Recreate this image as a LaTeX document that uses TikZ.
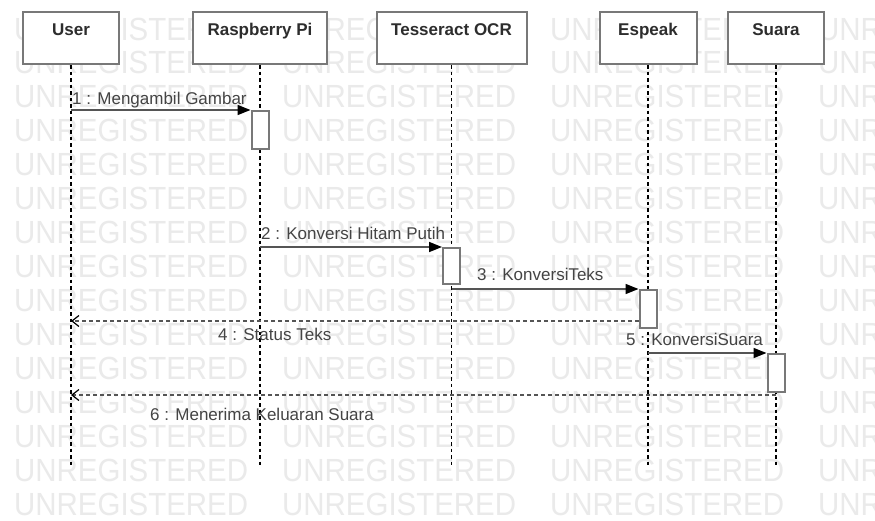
\documentclass[tikz,border=0pt]{standalone}
\usepackage{fontspec}
\setmainfont{Liberation Sans}
\newfontfamily\wmfont[FakeStretch=0.92]{Liberation Sans}
\usetikzlibrary{arrows.meta}
\definecolor{wmgray}{RGB}{234,234,234}
\definecolor{boxgray}{RGB}{120,120,120}
\definecolor{msggray}{RGB}{85,85,85}
\definecolor{txtc}{RGB}{45,45,45}
\definecolor{lblc}{RGB}{68,68,68}
\tikzset{
 wm/.style={anchor=base west, inner sep=0, text=wmgray, font=\wmfont\fontsize{32}{32}\selectfont},
 actor/.style={draw=boxgray, line width=2pt, fill=white, minimum height=52pt, inner sep=0},
 title/.style={anchor=base, inner sep=0, text=txtc, font=\bfseries\fontsize{17}{20}\selectfont},
 lifeline/.style={draw=black, line width=1.2pt, dash pattern=on 3.5pt off 3pt},
 act/.style={draw=boxgray, line width=2pt, fill=white, minimum width=17pt, inner sep=0, anchor=north},
 msg/.style={draw=msggray, line width=1.6pt, -{Triangle[length=13pt,width=10pt,fill=black,color=black]}},
 ret/.style={draw=msggray, line width=1.6pt, dash pattern=on 4pt off 3pt, -{Straight Barb[length=7pt,width=11pt,color=black,line width=1.2pt]}},
 lbl/.style={anchor=base west, inner sep=0, text=lblc, font=\fontsize{17}{20}\selectfont},
}
\begin{document}
\begin{tikzpicture}[x=1pt,y=-1pt]
\useasboundingbox (0,0) rectangle (875,520);
\fill[white] (0,0) rectangle (875,520);
% watermark
\begin{scope}
\clip (0,0) rectangle (875,520);
\foreach \r in {0,...,14}{
  \foreach \c in {0,...,3}{
    \node[wm] (wm-\r-\c) at ({14+268*\c},{40+33.93*\r}) {UNREGISTERED};
  }
}
\end{scope}
% actors
\node[actor, minimum width=96pt] (user) at (71,38) {};
\node[actor, minimum width=134pt] (rpi) at (260,38) {};
\node[actor, minimum width=150pt] (tess) at (451.5,38) {};
\node[actor, minimum width=97pt] (espeak) at (648,38) {};
\node[actor, minimum width=96pt] (suara) at (776,38) {};
\node[title] (tuser) at (71,35) {User};
\node[title] (trpi) at (260,35) {Raspberry Pi};
\node[title] (ttess) at (451.5,35) {Tesseract OCR};
\node[title] (tespeak) at (648,35) {Espeak};
\node[title] (tsuara) at (776,35) {Suara};
% lifelines
\coordinate (bottom) at (0,466);
\foreach \n in {user,rpi,tess,espeak,suara}{
  \draw[lifeline] (\n.south) -- (\n |- bottom);
}
% activations
\node[act, minimum height=38pt] (a1) at (rpi |- 0,110) {};
\node[act, minimum height=36pt] (a2) at (tess |- 0,247) {};
\node[act, minimum height=38pt] (a3) at (espeak |- 0,289) {};
\node[act, minimum height=38pt] (a4) at (suara |- 0,353) {};
% messages
\draw[msg] (user |- a1.north west) -- (a1.north west);
\draw[msg] (rpi |- a2.north west) -- (a2.north west);
\draw[msg] (tess |- a3.north west) -- (a3.north west);
\coordinate (r4) at (0,321);
\draw[ret] (a3.west |- r4) -- (user |- r4);
\draw[msg] (espeak |- a4.north west) -- (a4.north west);
\coordinate (r6) at (0,395);
\draw[ret] (suara |- r6) -- (user |- r6);
% labels
\node[lbl] (l1) at (72,104) {1 : Mengambil Gambar};
\node[lbl] (l2) at (261,239) {2 : Konversi Hitam Putih};
\node[lbl] (l3) at (477,280) {3 : KonversiTeks};
\node[lbl] (l4) at (218,340) {4 : Status Teks};
\node[lbl] (l5) at (626,345) {5 : KonversiSuara};
\node[lbl] (l6) at (150,420) {6 : Menerima Keluaran Suara};
\end{tikzpicture}
\end{document}
